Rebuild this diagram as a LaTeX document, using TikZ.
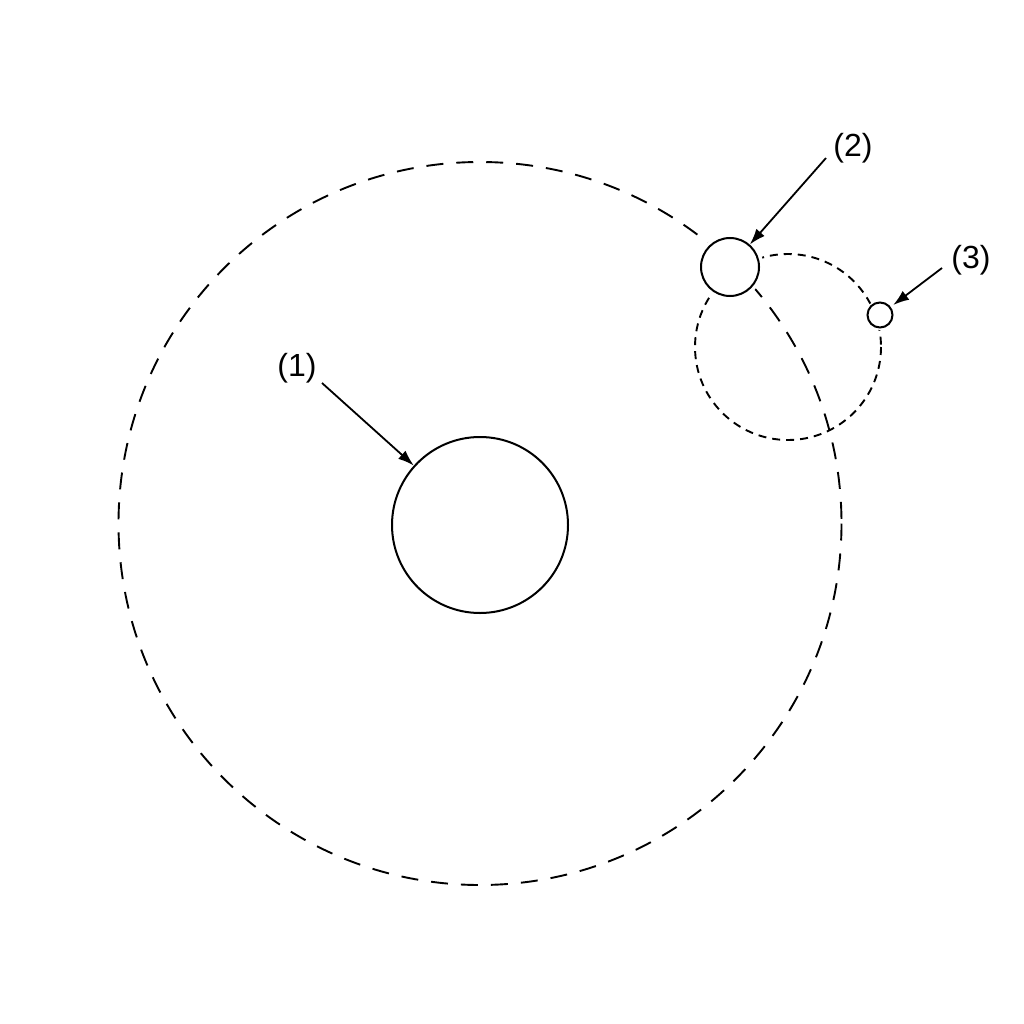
\documentclass[tikz,border=0pt]{standalone}
\usepackage{fontspec}
\setmainfont{Liberation Sans}
\usetikzlibrary{arrows.meta}
\begin{document}
\begin{tikzpicture}[x=1pt,y=-1pt,
  body/.style={circle,draw=black,fill=white,line width=2pt,inner sep=0pt},
  halo/.style={preaction={draw=white,line width=9pt}},
  orbitbig/.style={draw=black,line width=1.9pt,dash pattern=on 17pt off 13pt},
  orbitsmall/.style={draw=black,line width=1.9pt,dash pattern=on 8pt off 6pt},
  lbl/.style={font=\fontsize{32}{38}\selectfont,inner sep=0pt},
  pointer/.style={-{Latex[length=16pt,width=11pt]},line width=1.8pt}]
\useasboundingbox (0,0) rectangle (1024,1024);
\fill[white] (0,0) rectangle (1024,1024);
% orbits
\draw[orbitbig] (480,523.5) circle (361.5);
\draw[orbitsmall] (788,347) circle (93);
% bodies
\node[body,minimum size=176pt] (sun) at (480,525) {};
\node[body,halo,minimum size=58pt] (planet) at (730,267) {};
\node[body,preaction={draw=white,line width=5pt},minimum size=25pt] (moon) at (880,315) {};
% labels
\node[lbl] (l1) at (297,368) {(1)};
\node[lbl] (l2) at (853,148) {(2)};
\node[lbl] (l3) at (971,260) {(3)};
\coordinate (a1) at (322,383);
\coordinate (a2) at (826,158);
\coordinate (a3) at (942,268);
\draw[pointer] (a1) -- (sun);
\draw[pointer] (a2) -- (planet);
\draw[pointer,shorten >=3pt] (a3) -- (moon);
\end{tikzpicture}
\end{document}
